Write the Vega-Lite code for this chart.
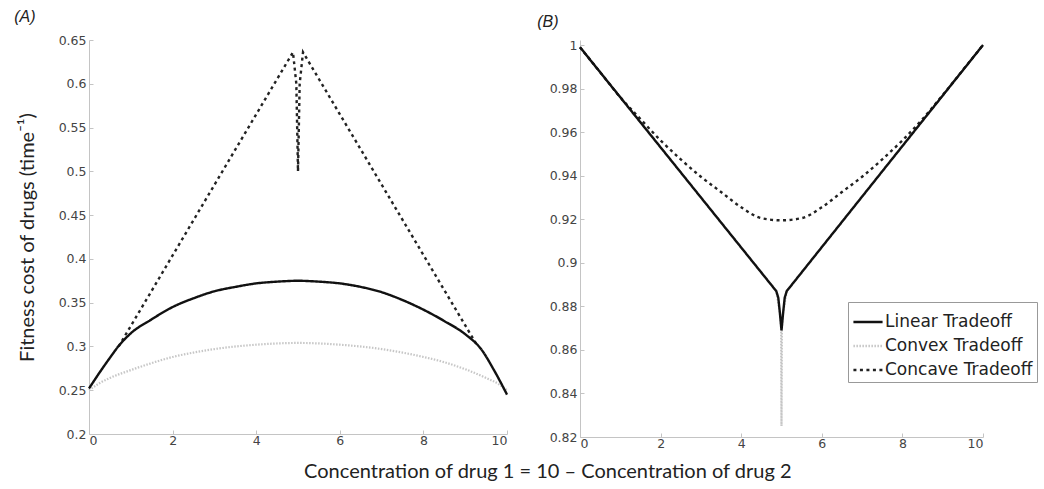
{
  "$schema": "https://vega.github.io/schema/vega-lite/v6.json",
  "background": "white",
  "padding": {"left": 14, "top": 9, "right": 0, "bottom": 0},
  "config": {
    "view": {"stroke": null},
    "axis": {
      "grid": false,
      "domainColor": "#c4c4c4",
      "tickColor": "#c4c4c4",
      "tickSize": -4,
      "labelFont": "DejaVu Sans",
      "labelFontSize": 12.5,
      "labelColor": "#444444",
      "labelPadding": 7,
      "titleFont": "Lato",
      "titleFontWeight": "normal",
      "titleColor": "#222222"
    },
    "title": {"font": "Liberation Sans", "fontWeight": "normal", "color": "#222222"},
    "legend": {
      "labelFont": "DejaVu Sans",
      "labelFontSize": 17,
      "labelColor": "#222222",
      "symbolType": "stroke",
      "symbolSize": 850,
      "symbolStrokeWidth": 2.5,
      "strokeColor": "#999999",
      "fillColor": "white",
      "padding": 4,
      "rowPadding": -7,
      "labelOffset": 1
    }
  },
  "title": {
    "text": "Concentration of drug 1 = 10 – Concentration of drug 2",
    "orient": "bottom",
    "anchor": "middle",
    "font": "Lato",
    "fontSize": 20,
    "fontWeight": "normal",
    "color": "#222222",
    "offset": 12,
    "dx": 22
  },
  "datasets": {
    "panelA": [
      {"series": "Convex Tradeoff", "x": 0, "y": 0.250},
      {"series": "Convex Tradeoff", "x": 0.25, "y": 0.258},
      {"series": "Convex Tradeoff", "x": 0.5, "y": 0.264},
      {"series": "Convex Tradeoff", "x": 1, "y": 0.273},
      {"series": "Convex Tradeoff", "x": 1.5, "y": 0.281},
      {"series": "Convex Tradeoff", "x": 2, "y": 0.288},
      {"series": "Convex Tradeoff", "x": 2.5, "y": 0.293},
      {"series": "Convex Tradeoff", "x": 3, "y": 0.297},
      {"series": "Convex Tradeoff", "x": 4, "y": 0.302},
      {"series": "Convex Tradeoff", "x": 5, "y": 0.304},
      {"series": "Convex Tradeoff", "x": 6, "y": 0.302},
      {"series": "Convex Tradeoff", "x": 7, "y": 0.297},
      {"series": "Convex Tradeoff", "x": 7.5, "y": 0.293},
      {"series": "Convex Tradeoff", "x": 8, "y": 0.288},
      {"series": "Convex Tradeoff", "x": 8.5, "y": 0.282},
      {"series": "Convex Tradeoff", "x": 9, "y": 0.274},
      {"series": "Convex Tradeoff", "x": 9.5, "y": 0.264},
      {"series": "Convex Tradeoff", "x": 9.8, "y": 0.257},
      {"series": "Convex Tradeoff", "x": 10, "y": 0.250},
      {"series": "Concave Tradeoff", "x": 0.71, "y": 0.300},
      {"series": "Concave Tradeoff", "x": 4.88, "y": 0.636},
      {"series": "Concave Tradeoff", "x": 4.96, "y": 0.600},
      {"series": "Concave Tradeoff", "x": 5.0, "y": 0.500},
      {"series": "Concave Tradeoff", "x": 5.04, "y": 0.600},
      {"series": "Concave Tradeoff", "x": 5.12, "y": 0.636},
      {"series": "Concave Tradeoff", "x": 9.3, "y": 0.300},
      {"series": "Linear Tradeoff", "x": 0, "y": 0.252},
      {"series": "Linear Tradeoff", "x": 0.25, "y": 0.270},
      {"series": "Linear Tradeoff", "x": 0.5, "y": 0.287},
      {"series": "Linear Tradeoff", "x": 0.7, "y": 0.300},
      {"series": "Linear Tradeoff", "x": 1, "y": 0.315},
      {"series": "Linear Tradeoff", "x": 1.5, "y": 0.331},
      {"series": "Linear Tradeoff", "x": 2, "y": 0.345},
      {"series": "Linear Tradeoff", "x": 2.5, "y": 0.355},
      {"series": "Linear Tradeoff", "x": 3, "y": 0.363},
      {"series": "Linear Tradeoff", "x": 3.5, "y": 0.368},
      {"series": "Linear Tradeoff", "x": 4, "y": 0.372},
      {"series": "Linear Tradeoff", "x": 4.5, "y": 0.374},
      {"series": "Linear Tradeoff", "x": 5, "y": 0.375},
      {"series": "Linear Tradeoff", "x": 5.5, "y": 0.374},
      {"series": "Linear Tradeoff", "x": 6, "y": 0.372},
      {"series": "Linear Tradeoff", "x": 6.5, "y": 0.368},
      {"series": "Linear Tradeoff", "x": 7, "y": 0.362},
      {"series": "Linear Tradeoff", "x": 7.5, "y": 0.353},
      {"series": "Linear Tradeoff", "x": 8, "y": 0.342},
      {"series": "Linear Tradeoff", "x": 8.5, "y": 0.329},
      {"series": "Linear Tradeoff", "x": 9, "y": 0.314},
      {"series": "Linear Tradeoff", "x": 9.38, "y": 0.297},
      {"series": "Linear Tradeoff", "x": 9.7, "y": 0.272},
      {"series": "Linear Tradeoff", "x": 10, "y": 0.245}
    ],
    "panelB": [
      {"series": "Convex Tradeoff", "x": 0, "y": 0.999},
      {"series": "Convex Tradeoff", "x": 4.87, "y": 0.887},
      {"series": "Convex Tradeoff", "x": 4.96, "y": 0.877},
      {"series": "Convex Tradeoff", "x": 4.99, "y": 0.870},
      {"series": "Convex Tradeoff", "x": 5.0, "y": 0.825},
      {"series": "Convex Tradeoff", "x": 5.01, "y": 0.870},
      {"series": "Convex Tradeoff", "x": 5.04, "y": 0.877},
      {"series": "Convex Tradeoff", "x": 5.13, "y": 0.887},
      {"series": "Convex Tradeoff", "x": 10, "y": 1.0},
      {"series": "Concave Tradeoff", "x": 0, "y": 0.999},
      {"series": "Concave Tradeoff", "x": 0.5, "y": 0.9875},
      {"series": "Concave Tradeoff", "x": 1, "y": 0.976},
      {"series": "Concave Tradeoff", "x": 1.5, "y": 0.966},
      {"series": "Concave Tradeoff", "x": 2, "y": 0.9562},
      {"series": "Concave Tradeoff", "x": 2.5, "y": 0.9475},
      {"series": "Concave Tradeoff", "x": 3, "y": 0.9395},
      {"series": "Concave Tradeoff", "x": 3.5, "y": 0.9325},
      {"series": "Concave Tradeoff", "x": 4, "y": 0.9255},
      {"series": "Concave Tradeoff", "x": 4.5, "y": 0.9205},
      {"series": "Concave Tradeoff", "x": 5, "y": 0.9195},
      {"series": "Concave Tradeoff", "x": 5.5, "y": 0.9205},
      {"series": "Concave Tradeoff", "x": 6, "y": 0.9255},
      {"series": "Concave Tradeoff", "x": 6.5, "y": 0.9325},
      {"series": "Concave Tradeoff", "x": 7, "y": 0.9395},
      {"series": "Concave Tradeoff", "x": 7.5, "y": 0.9475},
      {"series": "Concave Tradeoff", "x": 8, "y": 0.9562},
      {"series": "Concave Tradeoff", "x": 8.5, "y": 0.966},
      {"series": "Concave Tradeoff", "x": 9, "y": 0.977},
      {"series": "Concave Tradeoff", "x": 9.5, "y": 0.9885},
      {"series": "Concave Tradeoff", "x": 10, "y": 1.0},
      {"series": "Linear Tradeoff", "x": 0, "y": 0.999},
      {"series": "Linear Tradeoff", "x": 4.87, "y": 0.887},
      {"series": "Linear Tradeoff", "x": 4.92, "y": 0.884},
      {"series": "Linear Tradeoff", "x": 4.96, "y": 0.877},
      {"series": "Linear Tradeoff", "x": 5.0, "y": 0.869},
      {"series": "Linear Tradeoff", "x": 5.04, "y": 0.877},
      {"series": "Linear Tradeoff", "x": 5.08, "y": 0.884},
      {"series": "Linear Tradeoff", "x": 5.13, "y": 0.887},
      {"series": "Linear Tradeoff", "x": 10, "y": 1.0}
    ]
  },
  "spacing": 25,
  "resolve": {"scale": {"y": "independent"}, "legend": {"color": "independent", "strokeDash": "independent"}},
  "hconcat": [
    {
      "data": {"name": "panelA"},
      "width": 418,
      "height": 394,
      "title": {"text": "(A)", "anchor": "start", "frame": "bounds", "fontStyle": "italic", "fontSize": 16, "offset": 9, "dx": -3},
      "encoding": {
        "x": {"field": "x", "type": "quantitative", "scale": {"domain": [0, 10], "nice": false},
              "axis": {"title": null, "values": [0, 2, 4, 6, 8, 10], "format": "d", "labelPadding": 4}},
        "y": {"field": "y", "type": "quantitative", "scale": {"domain": [0.2, 0.65], "nice": false, "zero": false},
              "axis": {"title": "Fitness cost of drugs (time⁻¹)", "titleFontSize": 20, "titlePadding": 21,
                       "values": [0.2, 0.25, 0.3, 0.35, 0.4, 0.45, 0.5, 0.55, 0.6, 0.65], "format": "~g"}},
        "color": {"field": "series", "type": "nominal", "legend": null,
                  "scale": {"domain": ["Linear Tradeoff", "Convex Tradeoff", "Concave Tradeoff"], "range": ["#111111", "#c6c6c6", "#222222"]}},
        "strokeDash": {"field": "series", "type": "nominal", "legend": null,
                  "scale": {"domain": ["Linear Tradeoff", "Convex Tradeoff", "Concave Tradeoff"], "range": [[1, 0], [1.5, 1.5], [3, 3.5]]}}
      },
      "layer": [
        {"transform": [{"filter": "datum.series === 'Convex Tradeoff'"}],
         "mark": {"type": "line", "strokeWidth": 2.2, "interpolate": "monotone"}},
        {"transform": [{"filter": "datum.series === 'Concave Tradeoff'"}],
         "mark": {"type": "line", "strokeWidth": 2.4, "interpolate": "linear"}},
        {"transform": [{"filter": "datum.series === 'Linear Tradeoff'"}],
         "mark": {"type": "line", "strokeWidth": 2.4, "interpolate": "monotone"}}
      ]
    },
    {
      "data": {"name": "panelB"},
      "width": 403,
      "height": 397,
      "title": {"text": "(B)", "anchor": "start", "frame": "bounds", "fontStyle": "italic", "fontSize": 16, "offset": 9, "dx": -12},
      "encoding": {
        "x": {"field": "x", "type": "quantitative", "scale": {"domain": [0, 10], "nice": false},
              "axis": {"title": null, "values": [0, 2, 4, 6, 8, 10], "format": "d", "labelPadding": 4}},
        "y": {"field": "y", "type": "quantitative", "scale": {"domain": [0.82, 1.0023], "nice": false, "zero": false},
              "axis": {"title": null, "values": [0.82, 0.84, 0.86, 0.88, 0.9, 0.92, 0.94, 0.96, 0.98, 1], "format": "~g"}},
        "color": {"field": "series", "type": "nominal",
                  "scale": {"domain": ["Linear Tradeoff", "Convex Tradeoff", "Concave Tradeoff"], "range": ["#111111", "#c6c6c6", "#222222"]},
                  "legend": {"title": null, "orient": "none", "legendX": 268, "legendY": 262}},
        "strokeDash": {"field": "series", "type": "nominal",
                  "scale": {"domain": ["Linear Tradeoff", "Convex Tradeoff", "Concave Tradeoff"], "range": [[1, 0], [1.5, 1.5], [3, 3.5]]},
                  "legend": {"title": null, "orient": "none", "legendX": 268, "legendY": 262}}
      },
      "layer": [
        {"transform": [{"filter": "datum.series === 'Convex Tradeoff'"}],
         "mark": {"type": "line", "strokeWidth": 2.2, "interpolate": "linear"}},
        {"transform": [{"filter": "datum.series === 'Concave Tradeoff'"}],
         "mark": {"type": "line", "strokeWidth": 2.4, "interpolate": "monotone"}},
        {"transform": [{"filter": "datum.series === 'Linear Tradeoff'"}],
         "mark": {"type": "line", "strokeWidth": 2.4, "interpolate": "linear"}}
      ]
    }
  ]
}
